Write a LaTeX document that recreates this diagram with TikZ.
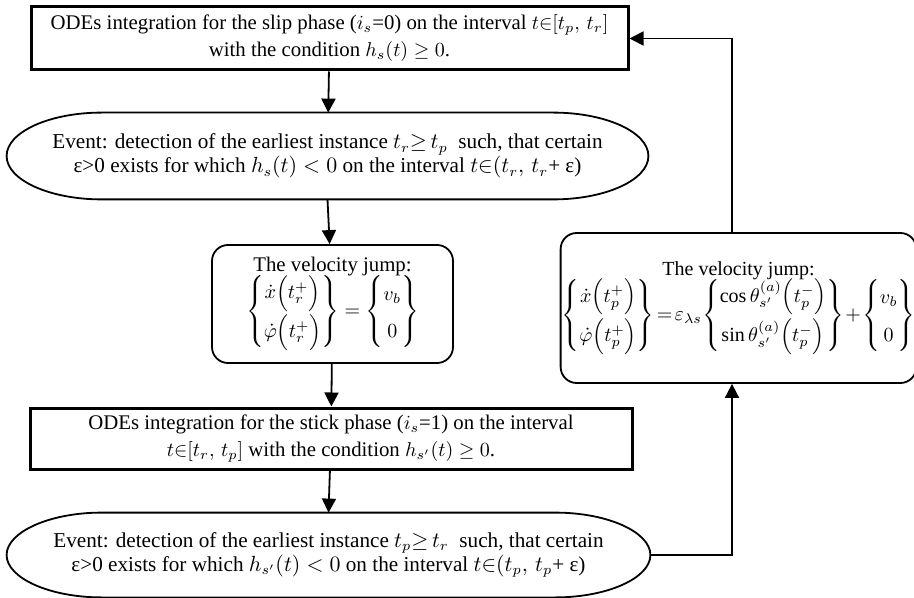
\documentclass[tikz,border=0pt]{standalone}
\usepackage{amsmath}
\usepackage{fontspec}
\setmainfont{Liberation Serif}
\usetikzlibrary{calc,arrows.meta}

\tikzset{
  phase/.style={draw,line width=1.5pt,minimum width=298.5pt,minimum height=31.5pt,
    align=center,inner sep=2pt,font=\fontsize{10.4}{13.5}\selectfont},
  jump/.style={draw,line width=0.9pt,rounded corners=8pt,align=center,inner sep=2pt,
    font=\fontsize{10.4}{13}\selectfont},
  event/.style={minimum width=320.5pt,minimum height=43pt,align=center,inner sep=0pt,
    font=\fontsize{10.6}{12}\selectfont},
  flow/.style={line width=0.9pt,-{Triangle[length=7pt,width=7pt]}}
}
\renewcommand{\arraystretch}{1.45}

\begin{document}
\begin{tikzpicture}[x=0.5pt,y=-0.5pt]
  \useasboundingbox (0,0) rectangle (914,598);

  % slip phase
  \node[phase] (slip) at (329.5,38.5)
    {ODEs integration for the slip phase ($i_s$=0) on the interval $t{\in}[t_p,\,t_r]$\\
     with the condition $h_s(t)\geq 0$.};

  % event: end of slip
  \node[event] (ev1) at (327.5,156)
    {Event: detection of the earliest instance $t_r{\geq}\,t_p$~ such, that certain\\
     ε>0 exists for which $h_s(t)<0$ on the interval $t{\in}(t_r,\,t_r$+ ε)};
  \draw[line width=0.9pt] ($(ev1.north west)+(95,0)$) -- ($(ev1.north east)+(-95,0)$)
    .. controls ($(ev1.north east)+(-43,0)$) and ($(ev1.east)+(0,-24)$) .. (ev1.east)
    .. controls ($(ev1.east)+(0,24)$) and ($(ev1.south east)+(-43,0)$) .. ($(ev1.south east)+(-95,0)$)
    -- ($(ev1.south west)+(95,0)$)
    .. controls ($(ev1.south west)+(43,0)$) and ($(ev1.west)+(0,24)$) .. (ev1.west)
    .. controls ($(ev1.west)+(0,-24)$) and ($(ev1.north west)+(43,0)$) .. cycle;

  % jump slip -> stick
  \node[jump,minimum width=120.5pt,minimum height=59pt] (jump1) at (332.5,304)
    {The velocity jump:\\[-3pt]
     $\left\{\begin{matrix}\dot{x}\Bigl(t_r^+\Bigr)\\ \dot{\varphi}\Bigl(t_r^+\Bigr)\end{matrix}\right\}
      =\left\{\begin{matrix}v_b\\ 0\end{matrix}\right\}$};

  % stick phase
  \node[phase,minimum width=301pt,minimum height=30.5pt] (stick) at (331,438.5)
    {ODEs integration for the stick phase ($i_s$=1) on the interval\\
     $t{\in}[t_r,\,t_p]$ with the condition $h_{s'}(t)\geq 0$.};

  % event: end of stick
  \node[event,minimum width=321.5pt,minimum height=42pt] (ev2) at (328.5,555)
    {Event: detection of the earliest instance $t_p{\geq}\,t_r$~ such, that certain\\
     ε>0 exists for which $h_{s'}(t)<0$ on the interval $t{\in}(t_p,\,t_p$+ ε)};
  \draw[line width=0.9pt] ($(ev2.north west)+(95,0)$) -- ($(ev2.north east)+(-95,0)$)
    .. controls ($(ev2.north east)+(-43,0)$) and ($(ev2.east)+(0,-23)$) .. (ev2.east)
    .. controls ($(ev2.east)+(0,23)$) and ($(ev2.south east)+(-43,0)$) .. ($(ev2.south east)+(-95,0)$)
    -- ($(ev2.south west)+(95,0)$)
    .. controls ($(ev2.south west)+(43,0)$) and ($(ev2.west)+(0,23)$) .. (ev2.west)
    .. controls ($(ev2.west)+(0,-23)$) and ($(ev2.north west)+(43,0)$) .. cycle;

  % jump stick -> slip
  \node[jump,minimum width=173.5pt,minimum height=75pt,inner xsep=0.5pt,
    font=\fontsize{10}{13}\selectfont] (jump2) at (738.5,308)
    {The velocity jump:\\[-3pt]
     $\left\{\begin{matrix}\dot{x}\Bigl(t_p^+\Bigr)\\ \dot{\varphi}\Bigl(t_p^+\Bigr)\end{matrix}\right\}
      \!=\!\varepsilon_{\lambda s}\!\left\{\begin{matrix}\cos\theta_{s'}^{(a)}\Bigl(t_p^-\Bigr)\\
        \sin\theta_{s'}^{(a)}\Bigl(t_p^-\Bigr)\end{matrix}\right\}
      \!+\!\left\{\begin{matrix}v_b\\ 0\end{matrix}\right\}$};

  % connectors
  \coordinate (loop) at (732,0);
  \draw[flow] (slip) -- (ev1);
  \draw[flow] (ev1.south) -- (jump1);
  \draw[flow] (jump1) -- (stick);
  \draw[flow] (stick) -- (ev2.north);
  \draw[flow] (ev2.east) -| (jump2.south -| loop);
  \draw[flow] (jump2.north -| loop) |- (slip.east);
\end{tikzpicture}
\end{document}
